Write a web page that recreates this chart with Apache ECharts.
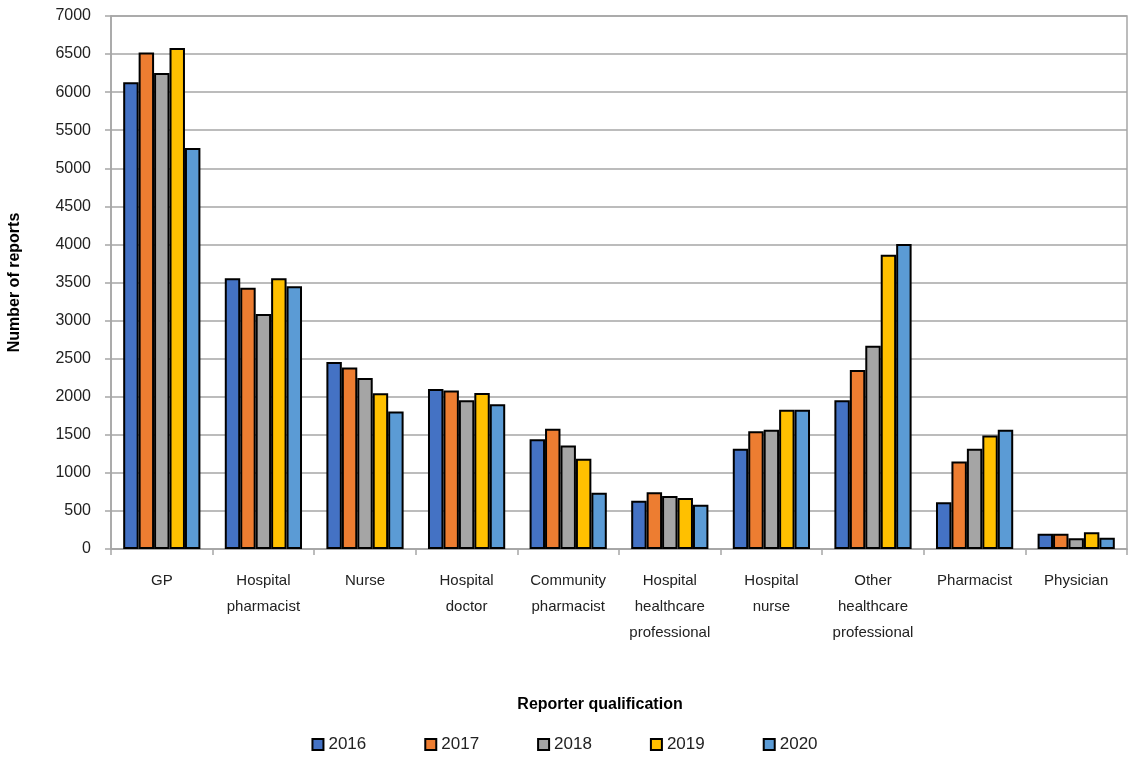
<!DOCTYPE html>
<html>
<head>
<meta charset="utf-8">
<script src="https://cdn.jsdelivr.net/npm/echarts@6/dist/echarts.min.js"></script>
<style>
  html, body { margin: 0; padding: 0; background: #fff; }
  #chart { width: 1129px; height: 758px; }
</style>
</head>
<body>
<div id="chart"></div>
<script>
const categories = [
  'GP', 'Hospital\npharmacist', 'Nurse', 'Hospital\ndoctor', 'Community\npharmacist',
  'Hospital\nhealthcare\nprofessional', 'Hospital\nnurse', 'Other\nhealthcare\nprofessional',
  'Pharmacist', 'Physician'
];
const years = ['2016', '2017', '2018', '2019', '2020'];
const colors = ['#4472C4', '#ED7D31', '#A5A5A5', '#FFC000', '#5B9BD5'];

const data2016 = [6130, 3555, 2455, 2100, 1440, 635, 1315, 1955, 615, 200];
const data2017 = [6520, 3430, 2385, 2080, 1580, 745, 1548, 2350, 1150, 200];
const data2018 = [6250, 3085, 2245, 1955, 1360, 695, 1565, 2670, 1315, 140];
const data2019 = [6580, 3555, 2045, 2050, 1185, 670, 1830, 3865, 1490, 220];
const data2020 = [5265, 3450, 1805, 1900, 740, 580, 1830, 4005, 1565, 148];
const seriesData = [data2016, data2017, data2018, data2019, data2020];

const font = 'Liberation Sans, Arial, sans-serif';

const chart = echarts.init(document.getElementById('chart'));

chart.setOption({
  backgroundColor: '#fff',
  animation: false,
  textStyle: { fontFamily: font },
  legend: {
    bottom: 0,
    left: 'center',
    itemWidth: 11,
    itemHeight: 11,
    itemGap: 58,
    icon: 'rect',
    textStyle: { fontSize: 17, color: '#222', fontFamily: font },
    data: years.map((y, i) => ({
      name: y,
      itemStyle: { color: colors[i], borderColor: '#000', borderWidth: 2 }
    }))
  },
  grid: {
    left: 111,
    right: 2,
    top: 16,
    bottom: 209,
    outerBoundsMode: 'none',
    containLabel: false,
    show: true,
    borderColor: '#a6a6a6',
    borderWidth: 1.5
  },
  xAxis: {
    type: 'category',
    data: categories,
    name: 'Reporter qualification',
    nameLocation: 'middle',
    nameGap: 148,
    nameTextStyle: { fontSize: 16, fontWeight: 'bold', color: '#000', padding: [0, 38, 0, 0] },
    axisLine: { lineStyle: { color: '#a6a6a6', width: 1.5 } },
    axisTick: { show: true, length: 6, lineStyle: { color: '#a6a6a6', width: 1.5 } },
    axisLabel: {
      interval: 0,
      margin: 19,
      fontSize: 15,
      lineHeight: 26,
      color: '#222'
    }
  },
  yAxis: {
    type: 'value',
    min: 0,
    max: 7000,
    interval: 500,
    name: 'Number of reports',
    nameLocation: 'middle',
    nameGap: 88,
    nameTextStyle: { fontSize: 16, fontWeight: 'bold', color: '#000' },
    axisLine: { show: true, lineStyle: { color: '#a6a6a6', width: 1.5 } },
    axisTick: { show: true, length: 6, lineStyle: { color: '#a6a6a6', width: 1.5 } },
    axisLabel: { fontSize: 16, color: '#222', margin: 20, formatter: v => String(v) },
    splitLine: { lineStyle: { color: '#a6a6a6', width: 1.5 } }
  },
  series: years.map((y, i) => ({
    name: y,
    type: 'bar',
    data: seriesData[i],
    barGap: '0%',
    barCategoryGap: '24%',
    itemStyle: { color: colors[i], borderColor: '#000', borderWidth: 2 }
  }))
});
</script>
</body>
</html>
